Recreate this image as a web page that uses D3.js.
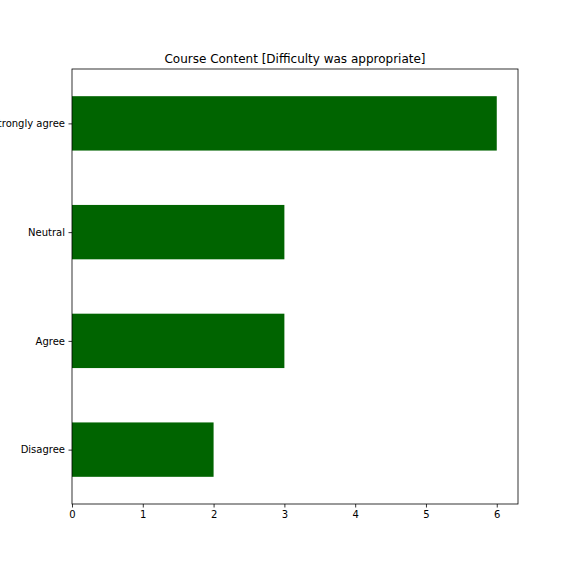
<!DOCTYPE html>
<html>
<head>
<meta charset="utf-8">
<script src="https://cdn.jsdelivr.net/npm/d3@7"></script>
<style>
  body { margin: 0; background: #fff; }
  text { font-family: "DejaVu Sans", sans-serif; }
</style>
</head>
<body>
<svg id="chart" width="576" height="576"></svg>
<script>
// Chart data
const categories = ['Disagree', 'Agree', 'Neutral', 'Strongly agree'];
const counts = [2, 3, 3, 6];
const xTicks = [0, 1, 2, 3, 4, 5, 6];
const title = 'Course Content [Difficulty was appropriate]';

const svg = d3.select('#chart');
const plotLeft = 72, plotRight = 518, plotTop = 69, plotBottom = 504;

const x = d3.scaleLinear().domain([0, 6.3]).range([plotLeft, plotRight]);
// matplotlib-style categorical y: index positions with +/-0.5 padding
const y = d3.scaleLinear().domain([-0.5, categories.length - 0.5]).range([plotBottom, plotTop]);
const barH = y(0) - y(0.5);

svg.append('rect').attr('width', 576).attr('height', 576).attr('fill', '#fff');

svg.append('g')
  .selectAll('rect')
  .data(counts)
  .join('rect')
  .attr('x', x(0))
  .attr('y', (d, i) => y(i) - barH / 2)
  .attr('width', (d) => x(d) - x(0))
  .attr('height', barH)
  .attr('fill', '#006400');

// Axes
const xAxis = svg.append('g')
  .attr('transform', `translate(0,${plotBottom})`)
  .call(d3.axisBottom(x).tickValues(xTicks).tickSize(3.5).tickPadding(3.5).tickFormat(d3.format('d')));
const yAxis = svg.append('g')
  .attr('transform', `translate(${plotLeft},0)`)
  .call(d3.axisLeft(y).tickValues(categories.map((c, i) => i)).tickSize(3.5).tickPadding(3.5)
    .tickFormat((i) => categories[i]));

[xAxis, yAxis].forEach((a) => {
  a.select('.domain').remove();
  a.selectAll('line').attr('stroke', '#000').attr('stroke-width', 0.8);
  a.selectAll('text').attr('fill', '#000').style('font-size', '10px')
    .style('font-family', '"DejaVu Sans", sans-serif');
});

// Frame
svg.append('rect')
  .attr('x', plotLeft).attr('y', plotTop)
  .attr('width', plotRight - plotLeft).attr('height', plotBottom - plotTop)
  .attr('fill', 'none').attr('stroke', '#000').attr('stroke-width', 0.8);

svg.append('text')
  .attr('x', (plotLeft + plotRight) / 2)
  .attr('y', plotTop - 6)
  .attr('text-anchor', 'middle')
  .style('font-size', '12px')
  .text(title);
</script>
</body>
</html>
